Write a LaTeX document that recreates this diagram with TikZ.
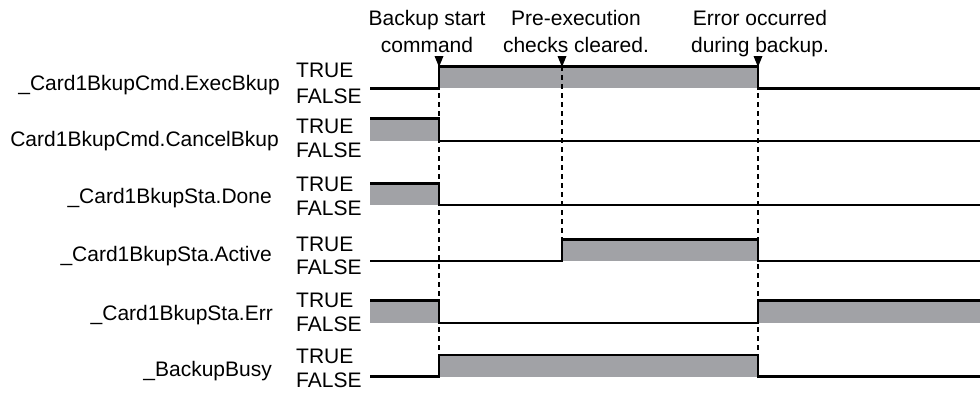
\documentclass[tikz,border=0pt]{standalone}
\usepackage{fontspec}
\setmainfont{Liberation Sans}
\definecolor{sigfill}{RGB}{161,162,166}
\begin{document}
\begin{tikzpicture}[x=1pt,y=-1pt,
  lbl/.style={font=\fontsize{21}{27}\selectfont, inner sep=0pt},
  sig/.style={line width=2.5pt, line join=miter},
  marker/.style={line width=1.5pt, dash pattern=on 5pt off 4pt},
  tri/.style={fill=black}]
\useasboundingbox (0,0) rectangle (980,392);

% event annotations
\node[lbl, anchor=base] (a1a) at (427,25) {Backup start};
\node[lbl, anchor=base] (a1b) at (427,52) {command};
\node[lbl, anchor=base] (a2a) at (576,25) {Pre-execution};
\node[lbl, anchor=base] (a2b) at (576,52) {checks cleared.};
\node[lbl, anchor=base] (a3a) at (760,25) {Error occurred};
\node[lbl, anchor=base] (a3b) at (760,52) {during backup.};

% signal names
\node[lbl, anchor=base east] (n1) at (280,90) {\_Card1BkupCmd.ExecBkup};
\node[lbl, anchor=base east] (n2) at (279,146.5) {Card1BkupCmd.CancelBkup};
\node[lbl, anchor=base east] (n3) at (272,203.2) {\_Card1BkupSta.Done};
\node[lbl, anchor=base east] (n4) at (272,261.5) {\_Card1BkupSta.Active};
\node[lbl, anchor=base east] (n5) at (273,320) {\_Card1BkupSta.Err};
\node[lbl, anchor=base east] (n6) at (272,376.5) {\_BackupBusy};

% TRUE / FALSE levels
\node[lbl, anchor=base west] (t1) at (296,77) {TRUE};
\node[lbl, anchor=base west] (f1) at (296,103) {FALSE};
\node[lbl, anchor=base west] (t2) at (296,133.3) {TRUE};
\node[lbl, anchor=base west] (f2) at (296,157.5) {FALSE};
\node[lbl, anchor=base west] (t3) at (296,191) {TRUE};
\node[lbl, anchor=base west] (f3) at (296,215) {FALSE};
\node[lbl, anchor=base west] (t4) at (296,251) {TRUE};
\node[lbl, anchor=base west] (f4) at (296,274.5) {FALSE};
\node[lbl, anchor=base west] (t5) at (296,307) {TRUE};
\node[lbl, anchor=base west] (f5) at (296,331) {FALSE};
\node[lbl, anchor=base west] (t6) at (296,363.5) {TRUE};
\node[lbl, anchor=base west] (f6) at (296,387.5) {FALSE};

% grey TRUE areas
\fill[sigfill] (439,66.7) rectangle (758,88.3);
\fill[sigfill] (370,118.3) rectangle (439,141);
\fill[sigfill] (370,183.3) rectangle (439,205);
\fill[sigfill] (562,239.3) rectangle (758,261);
\fill[sigfill] (370,300.7) rectangle (439,323);
\fill[sigfill] (758,300.7) rectangle (980,323);
\fill[sigfill] (439,355) rectangle (758,376.7);

% event markers
\coordinate (m1top) at (439,66);
\coordinate (m1bot) at (439,377);
\coordinate (m2top) at (562,66);
\coordinate (m2bot) at (562,261);
\coordinate (m3top) at (758,66);
\coordinate (m3bot) at (758,377);
\draw[marker] (m1top) -- (m1bot);
\draw[marker] (m2top) -- (m2bot);
\draw[marker] (m3top) -- (m3bot);
\fill[tri] (434.5,56) -- (443.5,56) -- (439,67) -- cycle;
\fill[tri] (557.5,56) -- (566.5,56) -- (562,67) -- cycle;
\fill[tri] (753.5,56) -- (762.5,56) -- (758,67) -- cycle;

% waveforms
\draw[sig] (370,88.3) -- (439,88.3) -- (439,66.7) -- (758,66.7) -- (758,88.3) -- (980,88.3);
\draw[sig] (370,118.3) -- (439,118.3) -- (439,141) -- (980,141);
\draw[sig] (370,183.3) -- (439,183.3) -- (439,205) -- (980,205);
\draw[sig] (370,261) -- (562,261) -- (562,239.3) -- (758,239.3) -- (758,261) -- (980,261);
\draw[sig] (370,300.7) -- (439,300.7) -- (439,323) -- (758,323) -- (758,300.7) -- (980,300.7);
\draw[sig] (370,376.7) -- (439,376.7) -- (439,355) -- (758,355) -- (758,376.7) -- (980,376.7);
\end{tikzpicture}
\end{document}
